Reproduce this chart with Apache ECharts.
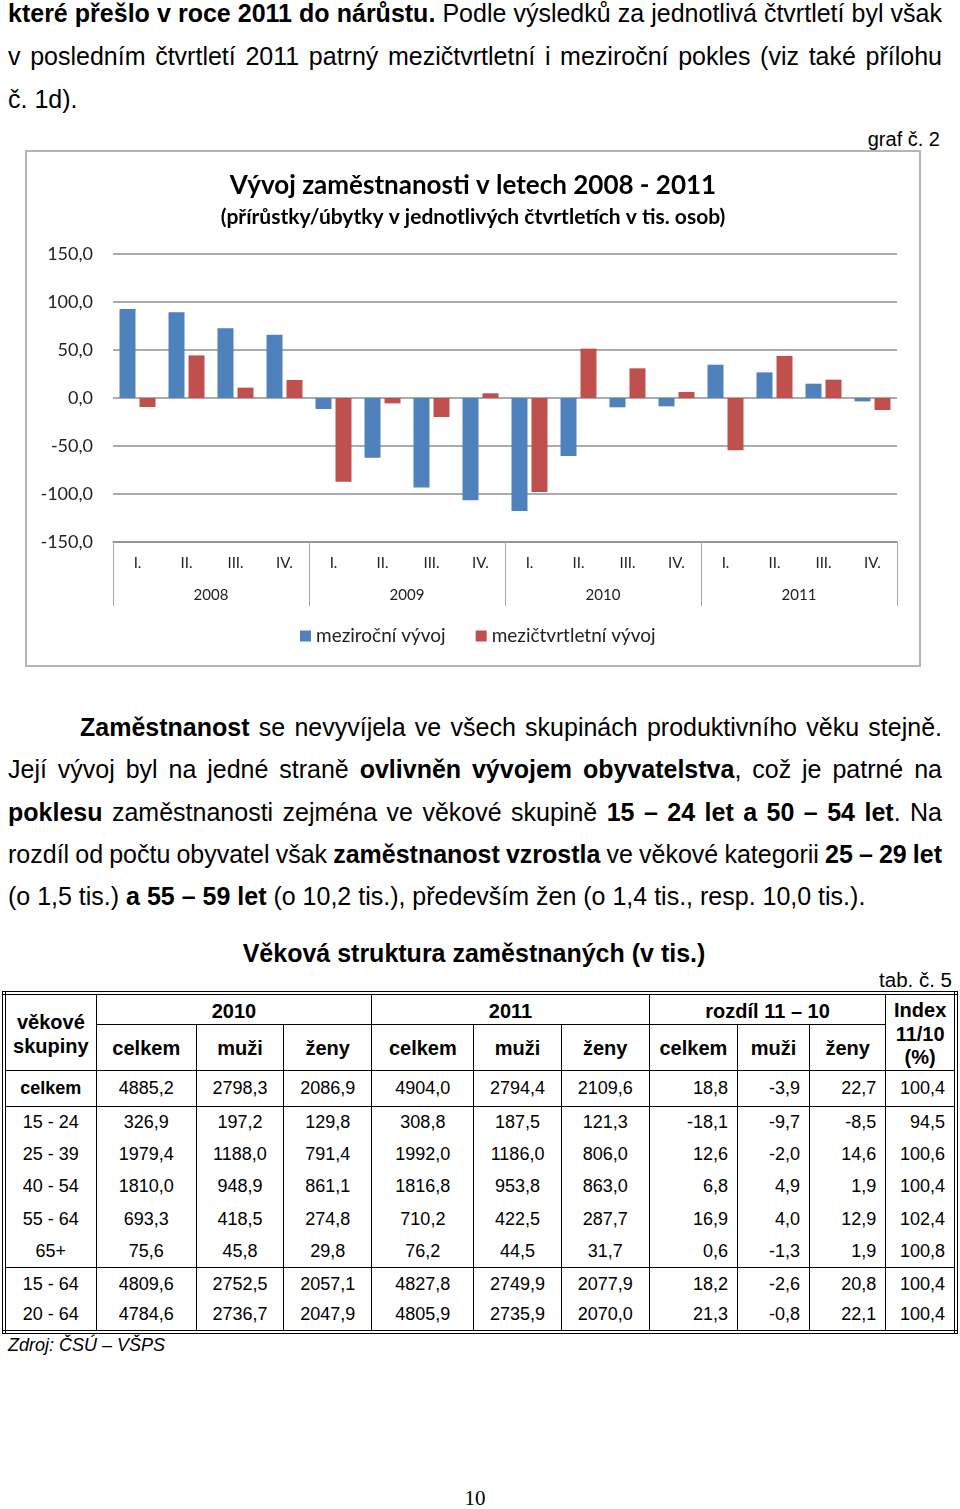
<!DOCTYPE html>
<html lang="cs">
<head>
<meta charset="utf-8">
<script src="https://cdn.jsdelivr.net/npm/echarts@6/dist/echarts.min.js"></script>
<style>
  html, body { margin: 0; padding: 0; background: #fff; }
  body { width: 960px; height: 1509px; position: relative; overflow: hidden; font-family: "Liberation Sans", Arial, sans-serif; color: #000; }
  .abs { position: absolute; }
  .para { left: 8px; width: 934px; font-size: 25px; }
  .para div { white-space: nowrap; }
  .para div.j { text-align: justify; text-align-last: justify; word-spacing: -3px; }
  #chart { position: absolute; left: 0; top: 120px; width: 960px; height: 560px; }
  table { border-collapse: collapse; position: absolute; left: 2px; top: 991px; width: 956px; border: 4px double #000; table-layout: fixed; }
  td, th { border-left: 1px solid #000; border-right: 1px solid #000; padding: 0; font-size: 18px; }
  th { font-weight: bold; font-size: 20px; text-align: center; }
  td.c { text-align: center; }
  td.r { text-align: right; padding-right: 9px; }
  tr.hl td, tr.hl th { border-bottom: 1px solid #000; }
  th.b { border-bottom: 1px solid #000; }
</style>
</head>
<body>
<div class="abs para" style="top:-8.5px; line-height:43px;">
  <div class="j"><b>které přešlo v roce 2011 do nárůstu.</b> Podle výsledků za jednotlivá čtvrtletí byl však</div>
  <div class="j">v posledním čtvrtletí 2011 patrný mezičtvrtletní i meziroční pokles (viz také přílohu</div>
  <div>č. 1d).</div>
</div>
<div class="abs" style="right:20px; top:127px; font-size:20px; line-height:24px;">graf č. 2</div>
<div id="chart"></div>
<div class="abs para" style="top:706px; line-height:42.3px;">
  <div class="j" style="padding-left:72px;"><b>Zaměstnanost</b> se nevyvíjela ve všech skupinách produktivního věku stejně.</div>
  <div class="j">Její vývoj byl na jedné straně <b>ovlivněn vývojem obyvatelstva</b>, což je patrné na</div>
  <div class="j"><b>poklesu</b> zaměstnanosti zejména ve věkové skupině <b>15 – 24 let a 50 – 54 let</b>. Na</div>
  <div class="j">rozdíl od počtu obyvatel však <b>zaměstnanost vzrostla</b> ve věkové kategorii <b>25 – 29 let</b></div>
  <div>(o 1,5 tis.) <b>a 55 – 59 let</b> (o 10,2 tis.), především žen (o 1,4 tis., resp. 10,0 tis.).</div>
</div>
<div class="abs" style="left:0; width:948px; text-align:center; top:938px; font-size:25px; line-height:30px; font-weight:bold;">Věková struktura zaměstnaných (v tis.)</div>
<div class="abs" style="right:8px; top:968px; font-size:20.5px; line-height:24px;">tab. č. 5</div>
<table id="tab"></table>
<div class="abs" style="left:8px; top:1333px; font-size:18px; line-height:24px; font-style:italic;">Zdroj: ČSÚ – VŠPS</div>
<div class="abs" style="left:0; width:950px; text-align:center; top:1486px; font-size:21px; line-height:24px; font-family:'Liberation Serif', 'Times New Roman', serif;">10</div>

<script>
// ---------- chart data ----------
const quarterLabels = ['I.', 'II.', 'III.', 'IV.', 'I.', 'II.', 'III.', 'IV.', 'I.', 'II.', 'III.', 'IV.', 'I.', 'II.', 'III.', 'IV.'];
const yearLabels = ['2008', '2009', '2010', '2011'];
const mezirocni = [92.7, 89.2, 72.6, 66.0, -11.5, -62.2, -93.1, -106.6, -117.7, -60.4, -9.7, -8.7, 34.7, 26.7, 14.9, -3.5];
const mezictvrtletni = [-9.4, 44.4, 10.8, 18.8, -87.2, -5.6, -19.8, 4.9, -97.9, 51.4, 30.9, 6.3, -54.5, 43.8, 19.1, -12.5];
const seriesNames = ['meziroční vývoj', 'mezičtvrtletní vývoj'];

// ---------- table data ----------
const groups = ['celkem', '15 - 24', '25 - 39', '40 - 54', '55 - 64', '65+', '15 - 64', '20 - 64'];
const celkem2010 = [4885.2, 326.9, 1979.4, 1810.0, 693.3, 75.6, 4809.6, 4784.6];
const muzi2010 = [2798.3, 197.2, 1188.0, 948.9, 418.5, 45.8, 2752.5, 2736.7];
const zeny2010 = [2086.9, 129.8, 791.4, 861.1, 274.8, 29.8, 2057.1, 2047.9];
const celkem2011 = [4904.0, 308.8, 1992.0, 1816.8, 710.2, 76.2, 4827.8, 4805.9];
const muzi2011 = [2794.4, 187.5, 1186.0, 953.8, 422.5, 44.5, 2749.9, 2735.9];
const zeny2011 = [2109.6, 121.3, 806.0, 863.0, 287.7, 31.7, 2077.9, 2070.0];
const rozdilCelkem = [18.8, -18.1, 12.6, 6.8, 16.9, 0.6, 18.2, 21.3];
const rozdilMuzi = [-3.9, -9.7, -2.0, 4.9, 4.0, -1.3, -2.6, -0.8];
const rozdilZeny = [22.7, -8.5, 14.6, 1.9, 12.9, 1.9, 20.8, 22.1];
const indexValues = [100.4, 94.5, 100.6, 100.4, 102.4, 100.8, 100.4, 100.4];

const fmt = v => v.toFixed(1).replace('.', ',');

// build table
(function () {
  const colW = [92, 100, 87, 88, 102, 87, 88, 88, 72, 76, 70];
  let h = '<colgroup>' + colW.map(w => '<col style="width:' + w + 'px">').join('') + '</colgroup>';
  h += '<tr style="height:31px"><th rowspan="2" class="b" style="line-height:24px; padding-top:4px">věkové<br>skupiny</th>' +
       '<th colspan="3" class="b" style="padding-top:3px">2010</th><th colspan="3" class="b" style="padding-top:3px">2011</th><th colspan="3" class="b" style="padding-top:3px">rozdíl 11 – 10</th>' +
       '<th rowspan="2" class="b" style="line-height:23.5px; padding-top:4px">Index<br>11/10<br>(%)</th></tr>';
  h += '<tr style="height:44px">' + ['celkem', 'muži', 'ženy', 'celkem', 'muži', 'ženy', 'celkem', 'muži', 'ženy'].map(t => '<th class="b" style="padding-top:3px">' + t + '</th>').join('') + '</tr>';
  for (let i = 0; i < groups.length; i++) {
    const hl = (i === 0 || i === 5 || i === groups.length - 1) ? ' class="hl"' : '';
    const ht = i === 0 ? 36 : (i <= 5 ? 32.4 : 32);
    h += '<tr' + hl + ' style="height:' + ht + 'px">';
    h += (i === 0 ? '<th style="font-size:18px">' + groups[i] + '</th>' : '<td class="c">' + groups[i] + '</td>');
    [celkem2010, muzi2010, zeny2010, celkem2011, muzi2011, zeny2011].forEach(a => { h += '<td class="c">' + fmt(a[i]) + '</td>'; });
    [rozdilCelkem, rozdilMuzi, rozdilZeny, indexValues].forEach(a => { h += '<td class="r">' + fmt(a[i]) + '</td>'; });
    h += '</tr>';
  }
  document.getElementById('tab').innerHTML = h;
})();

// build chart
const chart = echarts.init(document.getElementById('chart'), null, { renderer: 'canvas' });
const FONT = 'Lato, "Open Sans", sans-serif';
const GRID_COLOR = '#8f8f8f';
chart.setOption({
  animation: false,
  textStyle: { fontFamily: FONT },
  title: [
    { text: 'Vývoj zaměstnanosti v letech 2008 - 2011', left: 473, top: 51, textAlign: 'center', padding: 0,
      textStyle: { fontFamily: FONT, fontSize: 26, fontWeight: 'bold', color: '#000', lineHeight: 30 } },
    { text: '(přírůstky/úbytky v jednotlivých čtvrtletích v tis. osob)', left: 473, top: 84, textAlign: 'center', padding: 0,
      textStyle: { fontFamily: FONT, fontSize: 21, fontWeight: 'bold', color: '#000', lineHeight: 26 } }
  ],
  graphic: [
    { type: 'rect', shape: { x: 26, y: 31, width: 894, height: 515 }, style: { fill: 'none', stroke: '#b4b4b4', lineWidth: 2 }, silent: true }
  ],
  legend: {
    data: seriesNames, left: 300, top: 505, padding: 0, itemWidth: 11, itemHeight: 11, itemGap: 30, icon: 'rect',
    textStyle: { fontFamily: FONT, fontSize: 19, color: '#222', lineHeight: 22 }
  },
  grid: { left: 113, right: 63, top: 134, bottom: 138, containLabel: false },
  xAxis: [
    { type: 'category', data: quarterLabels, position: 'bottom',
      axisLine: { show: false, onZero: false }, axisTick: { show: false },
      axisLabel: { interval: 0, margin: 14, fontSize: 15, color: '#222', fontFamily: FONT } },
    { type: 'category', data: yearLabels, position: 'bottom',
      axisLine: { show: true, onZero: false, lineStyle: { color: GRID_COLOR, width: 1.5 } },
      axisTick: { show: true, length: 64, lineStyle: { color: '#a8a8a8', width: 1 } },
      axisLabel: { interval: 0, margin: 46, fontSize: 15, color: '#222', fontFamily: FONT },
      splitLine: { show: false } }
  ],
  yAxis: {
    type: 'value', min: -150, max: 150, interval: 50,
    axisLine: { show: false }, axisTick: { show: false },
    splitLine: { show: true, lineStyle: { color: GRID_COLOR, width: 1.5 } },
    axisLabel: { margin: 20, fontSize: 18, color: '#222', fontFamily: FONT, formatter: v => fmt(v) }
  },
  series: [
    { name: seriesNames[0], type: 'bar', xAxisIndex: 0, data: mezirocni, barWidth: 16, barGap: '25%',
      itemStyle: { color: '#4F81BD' } },
    { name: seriesNames[1], type: 'bar', xAxisIndex: 0, data: mezictvrtletni, barWidth: 16, barGap: '25%',
      itemStyle: { color: '#C0504D' } }
  ]
});
</script>
</body>
</html>
